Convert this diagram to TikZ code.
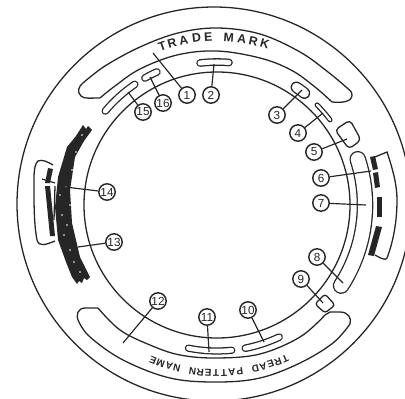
\documentclass[tikz,border=0pt]{standalone}
\usepackage{fontspec}
\setmainfont{Liberation Sans}
\tikzset{
 ln/.style={line width=1.1pt,black!85},
 lead/.style={line width=1pt,black!85},
 num/.style={circle,draw=black!85,fill=white,line width=1.2pt,inner sep=0pt,minimum size=14pt,font=\fontsize{10}{10}\selectfont,text=black!85},
 blk/.style={fill=black!85,draw=none},
 lett/.style={font=\bfseries\fontsize{10.5}{10.5}\selectfont,inner sep=0pt,text=black!85},
 lettb/.style={font=\bfseries\fontsize{8.5}{8.5}\selectfont,inner sep=0pt,text=black!85}
}
\newcommand{\ringpill}[4]{% angle1, angle2, radius, half width
 \draw[line width=#4*2*0.85pt+0.55pt,black!85,line cap=round] (217,205) ++(#1:#3) arc (#1:#2:#3);
 \draw[line width=#4*2*0.85pt-1.65pt,white,line cap=round] (217,205) ++(#1:#3) arc (#1:#2:#3);
}
\begin{document}
\begin{tikzpicture}[x=0.03cm,y=-0.03cm]
\useasboundingbox (0,0) rectangle (405,398);
\begin{scope}
\clip (0,0) rectangle (405,398);
\draw[ln] (214,204) circle (197);
\end{scope}
\draw[ln] (217,205) circle (133);
% left black band
\fill[blk] plot coordinates {(83,125)(86,129)(88,126)(92,130)(84,141)(75,157)(70,190)(72,223)(80,257)(90,277)(87,280)(84,278)(82,283)(79,281)(77,284)(72,277)(66,262)(58,240)(55,207)(58,177)(67,147)(76,136)} -- cycle;
\foreach \p in {(82,135),(76,152),(66,187),(62,215),(70,205),(64,235),(70,250),(74,262),(80,272),(60,195),(72,170),(67,225)}
  \fill[white] \p circle (0.8);
% top banner
\draw[ln,line join=round] plot[smooth,tension=.6] coordinates {(100,98)(115,86)(140,69)(177,55)(217,51)(260,58)(291,70)(315,87)(332,102)}
 .. controls (342,103) and (352,102) .. (352,95) .. controls (352,91) and (349,90) .. (346,87)
 plot[smooth,tension=.6] coordinates {(346,87)(328,72)(300,52)(260,34)(217,28)(178,33)(140,47)(105,66)(83,83)}
 .. controls (78,87) and (77,92) .. (81,96) .. controls (84,99) and (90,98) .. (100,98);
% bottom banner
\draw[ln,line join=round] plot[smooth,tension=.6] coordinates {(98,308)(120,330)(150,345)(180,355)(217,358)(260,354)(300,337)(325,315)}
 -- (330,312) -- (340,312) .. controls (348,312) and (352,318) .. (350,324)
 plot[smooth,tension=.6] coordinates {(350,324)(333,343)(300,363)(260,378)(217,382)(170,378)(123,360)(90,337)(79,322)}
 .. controls (75,315) and (78,308) .. (85,308) -- (98,308);
% strip 7
\ringpill{-18}{33}{148}{8}
% pills
\ringpill{-96.8}{-85.2}{143}{3.5}
\ringpill{-56}{-52}{142}{5.5}
\ringpill{-45}{-37}{141.5}{2.2}
\ringpill{64.8}{78.8}{146}{3.5}
\ringpill{84.2}{101.3}{146}{3.3}
\ringpill{-139.9}{-124.3}{146}{3.5}
\ringpill{-119.6}{-114.3}{146}{3.5}
% boxes 5 and 9
\draw[ln,fill=white,rounded corners=3.5pt] (350,120) -- (335,130) -- (349,149) -- (361,140) -- cycle;
\draw[ln,fill=white,rounded corners=2.5pt] (325,294) -- (315,304) -- (325,313) -- (335,305) -- cycle;
% left label
\draw[ln] (53,165) .. controls (48,162) and (42,159) .. (38,161) .. controls (33,165) and (34,180) .. (34,195) .. controls (34,215) and (35,230) .. (37,240) .. controls (39,247) and (45,245) .. (55,241);
\fill[blk] (48,168) -- (53,169) -- (50,183) -- (45,183) -- cycle;
\fill[blk] (45,186) -- (50,186) -- (55,236) -- (50,236) -- cycle;
\draw[ln] (55,186) -- (54,220);
\coordinate (tickL) at (42,179); \coordinate (tickR) at (55,183);
\draw[lead] (tickL) -- (tickR);
% right label
\draw[ln] (375,157) -- (387,152) .. controls (393,170) and (397,185) .. (397,200) .. controls (397,225) and (392,245) .. (387,258) .. controls (386,261) and (380,258) .. (375,255);
\fill[blk] (370,157) -- (375,156) -- (378,169) -- (373,170) -- cycle;
\fill[blk] (373,173) -- (378,172) -- (380,187) -- (375,188) -- cycle;
\fill[blk] (377,197) -- (382,197) -- (382,217) -- (377,217) -- cycle;
\fill[blk] (376,226) -- (382,227) -- (374,256) -- (368,255) -- cycle;
% banner text
\foreach \ch/\an [count=\i] in {T/-109,R/-105.5,A/-101.5,D/-97,E/-93,M/-86,A/-81.5,R/-77.5,K/-73.5}
  \node[lett,rotate=-90-\an] (tm\i) at ([shift={(217,205)}]\an:168) {\ch};
\foreach \ch/\an [count=\i] in {T/66,R/68.7,E/71.4,A/74.1,D/76.8,P/82.2,A/84.9,T/87.6,T/90.3,E/93,R/95.7,N/98.4,N/103.8,A/106.5,M/109.6,E/112.4}
  \node[lettb,rotate=-90-\an] (tp\i) at ([shift={(217,205)}]\an:168) {\ch};
% number nodes
\node[num] (n1) at (187,95) {1};
\node[num] (n2) at (211,95) {2};
\node[num] (n3) at (277,115) {3};
\node[num] (n4) at (298,133) {4};
\node[num] (n5) at (314,152) {5};
\node[num] (n6) at (321,178) {6};
\node[num] (n7) at (321,203) {7};
\node[num] (n8) at (317,257) {8};
\node[num] (n9) at (301,279) {9};
\node[num] (n10) at (248,310) {10};
\node[num] (n11) at (207,317) {11};
\node[num] (n12) at (158,301) {12};
\node[num] (n13) at (114,242) {13};
\node[num] (n14) at (107,192) {14};
\node[num] (n15) at (143,112) {15};
\node[num] (n16) at (163,103) {16};
% leader ends
\coordinate (e1) at (153,53);
\coordinate (e2) at (214,64);
\coordinate (e3) at (302,90);
\coordinate (e4) at (323,113);
\coordinate (e5) at (347,139);
\coordinate (e6) at (371,171);
\coordinate (e7) at (366,205);
\coordinate (e8) at (343,283);
\coordinate (e9) at (323,303);
\coordinate (e10) at (264,342);
\coordinate (e11) at (209,352);
\coordinate (e12) at (123,343);
\coordinate (e13) at (78,247);
\coordinate (e14) at (65,187);
\coordinate (e15) at (128,92);
\coordinate (e16) at (150,77);
\foreach \i in {1,...,16} \draw[lead] (n\i) -- (e\i);
\end{tikzpicture}
\end{document}
